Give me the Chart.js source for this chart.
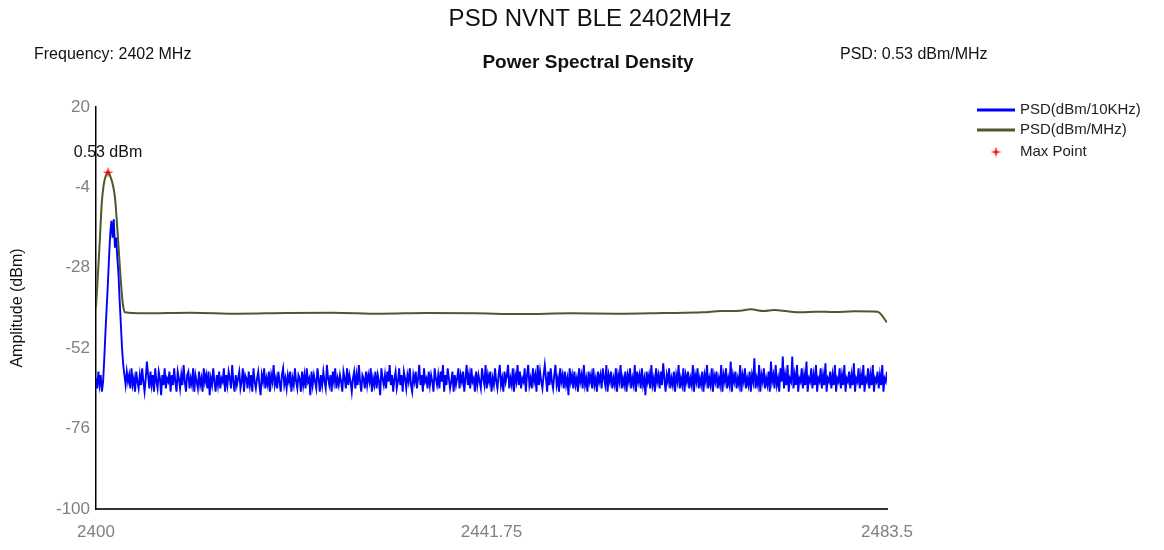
<!DOCTYPE html>
<html lang="en">
<head>
    <meta charset="UTF-8">
    <title>PSD NVNT BLE 2402MHz</title>
    <style>
        body {
            margin: 0;
            padding: 0;
            background-color: #fff;
        }
        #psd-chart {
            display: block;
        }
    </style>
</head>
<body>
    <canvas id="psd-chart" width="1164" height="550"></canvas>

    <script src="https://cdn.jsdelivr.net/npm/chart.js"></script>
    <script>
        // sweep grid of the 10 kHz trace (MHz)
        const sweepStart = 2400;
        const sweepStep = 0.125;

        // PSD (dBm/10KHz), one value per sweep point
        const psd10k = [
            -61, -64, -59, -63, -60, -65, -62,
            -55, -47, -40, -33, -25, -18, -14, -19, -13.5, -22, -19, -25, -30, -38, -45, -52, -57, -60, -63, -59,
            -62, -60, -64, -58, -63, -61, -65, -59, -62, -64, -60, -63, -58, -62, -65, -61, -56, -60, -64, -59,
            -63, -60, -65, -58, -62, -64, -59, -61, -66, -60, -63, -58, -64, -61, -62, -59, -65, -60, -63, -58,
            -62, -65, -59, -61, -64, -60, -63, -57, -62, -65, -60, -59, -64, -61, -63, -58, -65, -60, -62, -64,
            -59, -63, -61, -65, -58, -62, -60, -64, -59, -66, -61, -63, -58, -62, -65, -60, -63, -59, -64, -61,
            -62, -58, -65, -60, -63, -59, -61, -64, -57, -62, -65, -60, -63, -61, -59, -64, -62, -58, -65, -60,
            -61, -64, -59, -63, -60, -65, -58, -62, -64, -61, -59, -63, -66, -60, -62, -58, -64, -61, -63, -59,
            -65, -60, -62, -57, -63, -61, -64, -59, -62, -65, -60, -58, -63, -61, -64, -60, -62, -59, -65, -61,
            -63, -58, -62, -64, -60, -61, -65, -59, -63, -60, -64, -58, -62, -61, -66, -59, -63, -60, -62, -64,
            -58, -61, -65, -60, -63, -59, -62, -64, -57, -61, -63, -60, -65, -59, -62, -58, -64, -61, -63, -60,
            -62, -65, -59, -61, -64, -58, -63, -60, -62, -65, -61, -59, -64, -60, -63, -57, -62, -65, -60, -61,
            -64, -59, -63, -60, -62, -58, -65, -61, -63, -59, -64, -60, -62, -66, -58, -61, -63, -60, -64, -59,
            -62, -57, -63, -60, -65, -61, -59, -64, -62, -58, -63, -60, -65, -59, -61, -64, -60, -62, -58, -63,
            -65, -60, -62, -59, -64, -61, -57, -63, -60, -65, -58, -62, -61, -64, -59, -63, -60, -62, -65, -58,
            -61, -63, -60, -64, -59, -62, -57, -65, -60, -63, -58, -61, -64, -62, -59, -65, -60, -63, -61, -58,
            -64, -60, -62, -59, -65, -61, -57, -63, -60, -64, -58, -62, -61, -65, -59, -63, -60, -62, -64, -58,
            -61, -63, -57, -64, -60, -62, -59, -65, -61, -63, -58, -62, -64, -60, -57, -63, -61, -65, -59, -62,
            -60, -57, -64, -61, -63, -58, -65, -60, -62, -57, -63, -59, -64, -61, -62, -58, -65, -60, -57, -63,
            -61, -64, -58, -62, -60, -65, -57, -63, -59, -62, -64, -60, -57, -61, -65, -59, -63, -58, -62, -64,
            -60, -57, -63, -61, -65, -58, -62, -60, -64, -59, -63, -61, -66, -58, -62, -60, -64, -59, -63, -61,
            -65, -58, -62, -60, -64, -57, -63, -61, -65, -59, -62, -60, -64, -58, -63, -61, -65, -59, -62, -60,
            -64, -58, -61, -63, -57, -65, -60, -62, -59, -64, -61, -63, -58, -65, -60, -62, -57, -64, -61, -63,
            -59, -65, -60, -62, -58, -64, -61, -63, -57, -65, -59, -62, -60, -64, -58, -63, -61, -66, -59, -62,
            -60, -64, -57, -63, -61, -65, -58, -62, -60, -64, -59, -63, -56.5, -61, -65, -60, -62, -58, -64, -61,
            -63, -59, -65, -60, -62, -57, -64, -61, -63, -58, -65, -60, -62, -59, -64, -61, -63, -57, -65, -60,
            -62, -58, -64, -61, -63, -59, -65, -60, -62, -57, -64, -61, -63, -58, -65, -60, -62, -59, -64, -61,
            -63, -57, -65, -60, -62, -58, -64, -61, -63, -56, -65, -60, -62, -59, -64, -61, -63, -57, -65, -60,
            -62, -58, -64, -61, -63, -59, -65, -60, -62, -55, -64, -61, -63, -57, -65, -60, -62, -58, -64, -61,
            -63, -59, -65, -56, -62, -60, -64, -57, -63, -61, -65, -58, -62, -54.5, -64, -60, -63, -57, -65, -61,
            -62, -54.5, -64, -60, -63, -57, -65, -61, -62, -58, -64, -60, -63, -56, -65, -61, -62, -58, -64, -60,
            -63, -57, -65, -61, -62, -58, -64, -60, -63, -56.5, -65, -61, -62, -59, -64, -60, -63, -57, -65, -61,
            -62, -58, -64, -60, -63, -57, -65, -61, -62, -59, -64, -60, -63, -56.5, -65, -61, -62, -58, -64, -60,
            -63, -57, -65, -61, -62, -58, -64, -60, -63, -57, -65, -61, -62, -59, -64, -60, -63, -57, -65, -61,
            -62, -59
        ];

        // PSD (dBm/MHz) trace
        const mhzFreq = [
            2400, 2400.2, 2400.4, 2400.6, 2400.8, 2401, 2401.27, 2401.55, 2401.8, 2402, 2402.33, 2402.5, 2402.75, 2402.9,
            2403.07, 2405, 2410, 2415, 2420, 2425, 2430, 2435, 2440, 2445, 2450, 2455, 2460, 2464,
            2466, 2468, 2469.1, 2470.5, 2471.6, 2473, 2474.4, 2476, 2478, 2480, 2482.5, 2483.5
        ];
        const psdMhz = [
            -40, -30, -20, -9, -3.5, -0.8, 0.53, -1, -3.5, -7, -19.6, -27, -36.6, -40,
            -41.3, -41.6, -41.4, -41.7, -41.5, -41.4, -41.7, -41.5, -41.6, -41.8, -41.6, -41.7, -41.5, -41.3,
            -40.9, -40.8, -40.4, -40.9, -40.6, -41, -41.3, -41.1, -41.2, -41, -41.1, -44.3
        ];

        const maxFreq = 2401.27;
        const maxPsd = 0.53;

        const xTicks = [2400, 2441.75, 2483.5];
        const yTicks = [-100, -76, -52, -28, -4, 20];

        function makeStar(size, color) {
            const c = document.createElement('canvas');
            c.width = size;
            c.height = size;
            const g = c.getContext('2d');
            const m = size / 2;
            g.fillStyle = color;
            g.beginPath();
            for (let k = 0; k < 8; k++) {
                const a = k * Math.PI / 4 - Math.PI / 2;
                const r = k % 2 === 0 ? m : size / 7;
                g.lineTo(m + r * Math.cos(a), m + r * Math.sin(a));
            }
            g.closePath();
            g.fill();
            return c;
        }
        const starImg = makeStar(11, '#ff0000');

        const blueData = psd10k.map((v, i) => ({ x: sweepStart + i * sweepStep, y: v }));
        const greenData = mhzFreq.map((f, i) => ({ x: f, y: psdMhz[i] }));

        // titles, legend and max label
        const decorPlugin = {
            id: 'psdDecor',
            afterDraw(chart) {
                const ctx = chart.ctx;
                ctx.save();
                ctx.fillStyle = '#111';
                ctx.textBaseline = 'middle';

                ctx.font = '24px Arial, "Liberation Sans", sans-serif';
                ctx.textAlign = 'center';
                ctx.fillText('PSD NVNT BLE 2402MHz', 590, 19);

                ctx.font = 'bold 19px Arial, "Liberation Sans", sans-serif';
                ctx.fillText('Power Spectral Density', 588, 63);

                ctx.font = '16px Arial, "Liberation Sans", sans-serif';
                ctx.textAlign = 'left';
                ctx.fillText('Frequency: 2402 MHz', 34, 55);
                ctx.fillText('PSD: 0.53 dBm/MHz', 840, 55);

                // max point label
                const xs = chart.scales.x;
                const ys = chart.scales.y;
                ctx.textAlign = 'center';
                ctx.fillText('0.53 dBm', xs.getPixelForValue(maxFreq), ys.getPixelForValue(maxPsd) - 20);

                // legend
                ctx.font = '15px Arial, "Liberation Sans", sans-serif';
                ctx.textAlign = 'left';
                const items = [
                    { text: 'PSD(dBm/10KHz)', color: '#0000ff', y: 110 },
                    { text: 'PSD(dBm/MHz)', color: '#4b5a2c', y: 130 },
                    { text: 'Max Point', color: null, y: 152 }
                ];
                items.forEach(item => {
                    if (item.color) {
                        ctx.strokeStyle = item.color;
                        ctx.lineWidth = 3;
                        ctx.beginPath();
                        ctx.moveTo(977, item.y);
                        ctx.lineTo(1015, item.y);
                        ctx.stroke();
                    } else {
                        ctx.drawImage(starImg, 996 - 5.5, item.y - 5.5);
                    }
                    ctx.fillStyle = '#222';
                    ctx.fillText(item.text, 1020, item.y);
                });
                ctx.restore();
            }
        };

        const ctx = document.getElementById('psd-chart').getContext('2d');
        new Chart(ctx, {
            type: 'line',
            data: {
                datasets: [
                    {
                        label: 'Max Point',
                        data: [{ x: maxFreq, y: maxPsd }],
                        showLine: false,
                        pointStyle: starImg,
                        pointRadius: 5,
                        order: 0
                    },
                    {
                        label: 'PSD(dBm/10KHz)',
                        data: blueData,
                        borderColor: '#0000ff',
                        borderWidth: 1.9,
                        pointRadius: 0,
                        tension: 0,
                        order: 1
                    },
                    {
                        label: 'PSD(dBm/MHz)',
                        data: greenData,
                        borderColor: '#4b5a2c',
                        borderWidth: 2,
                        pointRadius: 0,
                        cubicInterpolationMode: 'monotone',
                        order: 2
                    }
                ]
            },
            options: {
                responsive: false,
                animation: false,
                layout: {
                    padding: { top: 107, right: 277, left: 0, bottom: 0 }
                },
                plugins: {
                    legend: { display: false },
                    tooltip: { enabled: false }
                },
                scales: {
                    x: {
                        type: 'linear',
                        min: 2400,
                        max: 2483.5,
                        grid: { display: false, drawTicks: false },
                        border: { display: true, color: '#333', width: 2 },
                        afterBuildTicks: scale => { scale.ticks = xTicks.map(v => ({ value: v })); },
                        afterFit: scale => { scale.height = 41; },
                        ticks: {
                            color: '#808080',
                            padding: 13,
                            maxRotation: 0,
                            font: { family: 'Arial, "Liberation Sans", sans-serif', size: 17 },
                            callback: v => String(v)
                        }
                    },
                    y: {
                        min: -100,
                        max: 20,
                        grid: { display: false, drawTicks: false },
                        border: { display: true, color: '#000', width: 1.5 },
                        afterBuildTicks: scale => { scale.ticks = yTicks.map(v => ({ value: v })); },
                        afterFit: scale => { scale.width = 96; },
                        title: {
                            display: true,
                            text: 'Amplitude (dBm)',
                            color: '#111',
                            padding: { top: 8, bottom: 0 },
                            font: { family: 'Arial, "Liberation Sans", sans-serif', size: 16 }
                        },
                        ticks: {
                            color: '#808080',
                            padding: 6,
                            font: { family: 'Arial, "Liberation Sans", sans-serif', size: 17 },
                            callback: v => String(v)
                        }
                    }
                }
            },
            plugins: [decorPlugin]
        });
    </script>
</body>
</html>
